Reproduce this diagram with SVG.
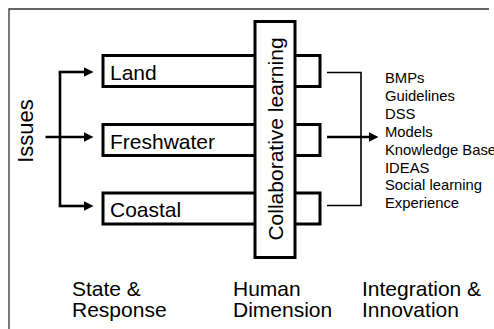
<svg xmlns="http://www.w3.org/2000/svg" width="494" height="329" viewBox="0 0 494 329">
<defs>
<marker id="ah" viewBox="0 0 10 10" refX="4" refY="5" markerWidth="10" markerHeight="10" markerUnits="userSpaceOnUse" orient="auto">
<path d="M0,0 L10,5 L0,10 z" fill="#000"/>
</marker>
<style>
.box{fill:#fff;stroke:#000;stroke-width:3}
.t{font-family:"Liberation Sans",Arial,sans-serif;fill:#000}
.big{font-size:21px}
.list{font-size:14.8px}
.arr{fill:none;stroke:#000;stroke-width:2.6;marker-end:url(#ah)}
.ln{fill:none;stroke:#000;stroke-width:2.6}
.thin{fill:none;stroke:#000;stroke-width:1.6}
</style>
</defs>
<rect width="494" height="329" fill="#fff"/>
<path d="M9,329 V9 H489" fill="none" stroke="#333" stroke-width="1.3"/>

<g id="land">
<rect class="box" x="103" y="55.5" width="217" height="31"/>
<text class="t big" x="110" y="80.3">Land</text>
</g>
<g id="freshwater">
<rect class="box" x="103" y="124.5" width="217" height="31"/>
<text class="t big" x="110" y="149">Freshwater</text>
</g>
<g id="coastal">
<rect class="box" x="103" y="193" width="217" height="31"/>
<text class="t big" x="110" y="217">Coastal</text>
</g>
<g id="collaborative">
<rect class="box" x="255" y="21.5" width="40" height="236"/>
<text class="t big" text-anchor="middle" transform="translate(283,139) rotate(-90)">Collaborative learning</text>
</g>
<g id="issues">
<text class="t" font-size="22" text-anchor="middle" transform="translate(33,131) rotate(-90)">Issues</text>
</g>
<g id="outputs" class="t list">
<text x="385" y="83.3">BMPs</text>
<text x="385" y="101.2">Guidelines</text>
<text x="385" y="119">DSS</text>
<text x="385" y="136.9">Models</text>
<text x="385" y="154.7">Knowledge Base</text>
<text x="385" y="172.6">IDEAS</text>
<text x="385" y="190.4">Social learning</text>
<text x="385" y="208.3">Experience</text>
</g>
<g id="labels" class="t big">
<text x="72" y="295.5">State &amp;</text>
<text x="72" y="317">Response</text>
<text x="233" y="295.5">Human</text>
<text x="233" y="317">Dimension</text>
<text x="362" y="295.5">Integration &amp;</text>
<text x="362" y="317">Innovation</text>
</g>
<g id="connectors">
<path class="ln" d="M60,72 V206"/>
<path class="arr" d="M58.7,72 H87.5"/>
<path class="arr" d="M45.5,137 H87.5"/>
<path class="arr" d="M58.7,206 H87.5"/>
<path class="thin" d="M327,72.5 H361 V205.5 H327"/>
<path class="arr" d="M327,137 H372.5"/>
</g>
</svg>
